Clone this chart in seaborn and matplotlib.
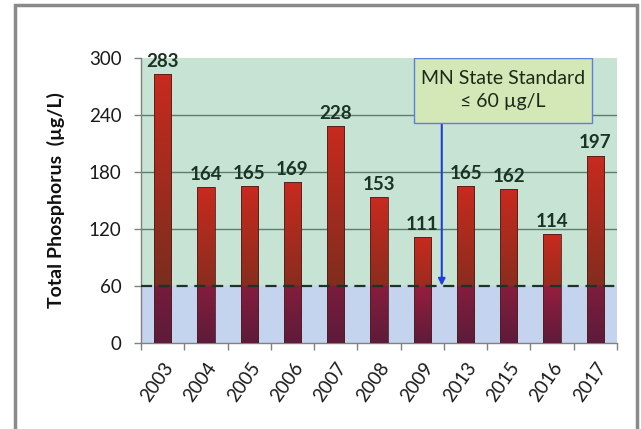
import matplotlib
matplotlib.use("Agg")
import matplotlib.pyplot as plt
from matplotlib.patches import Rectangle
import seaborn as sns
import numpy as np
import pandas as pd

# data
years = ["2003", "2004", "2005", "2006", "2007", "2008", "2009",
         "2013", "2015", "2016", "2017"]
phosphorus = [283, 164, 165, 169, 228, 153, 111, 165, 162, 114, 197]
standard = 60
y_ticks = [0, 60, 120, 180, 240, 300]

sns.set_style("white")
plt.rcParams['font.family'] = ['Lato', 'DejaVu Sans']

df = pd.DataFrame({"Year": years, "TP": phosphorus})

fig = plt.figure(figsize=(6.41, 4.29), dpi=100)
ax = fig.add_axes([0.22, 0.2012, 0.7426, 0.6643])
ax.set_facecolor("#c6e3d3")

sns.barplot(data=df, x="Year", y="TP", ax=ax, width=0.4,
            color="#c82a1e", edgecolor="#4a2020", linewidth=0.6, zorder=3)
bars = list(ax.patches)

# lower band below the standard
ax.axhspan(0, standard, color="#c4d3ee", zorder=0)

# gradient fill clipped to every bar
red = np.array([200, 42, 30]) / 255
dark_red = np.array([101, 46, 30]) / 255
crimson = np.array([200, 32, 66]) / 255
dark_purple = np.array([94, 27, 58]) / 255
for bar in bars:
    x0, w, h = bar.get_x(), bar.get_width(), bar.get_height()
    v = np.linspace(0, h, 300)
    t = (v / h)[:, None]
    upper = dark_red + (red - dark_red) * t
    lower = dark_purple + (crimson - dark_purple) * t
    cols = np.where((v < standard)[:, None], lower, upper)
    img = ax.imshow(cols[:, None, :], extent=[x0, x0 + w, 0, h], origin="lower",
                    aspect="auto", zorder=3.5, interpolation="bilinear")
    img.set_clip_path(bar)
    bar.set_facecolor("none")
    bar.set_zorder(4)

ax.set_xlim(-0.5, len(years) - 0.5)
ax.set_ylim(0, 300)

# grid and standard line
for yv in y_ticks[2:5]:
    ax.axhline(yv, color="#5f7d6c", lw=1.0, zorder=1)
ax.axhline(standard, color="#1c3326", lw=1.6, ls=(0, (5, 3)), zorder=5)

# value labels
for bar, val in zip(bars, phosphorus):
    ax.annotate(f"{val}", (bar.get_x() + bar.get_width() / 2, val),
                xytext=(0, 3), textcoords="offset points", ha="center",
                va="bottom", fontsize=13.5, fontweight="bold", color="#1a3322",
                zorder=6)

# axes styling
for side in ["top", "right"]:
    ax.spines[side].set_visible(False)
for side in ["left", "bottom"]:
    ax.spines[side].set_color("#808080")
    ax.spines[side].set_linewidth(1.0)

ax.set_yticks(y_ticks)
ax.tick_params(axis="y", left=True, length=5, width=1, color="#808080",
               labelsize=13.5, labelcolor="#1a1a1a", pad=9)
ax.set_xticks(np.arange(len(years)))
ax.set_xticks(np.arange(-0.5, len(years)), minor=True)
ax.tick_params(axis="x", which="major", length=0, pad=12)
ax.tick_params(axis="x", which="minor", bottom=True, length=5, width=1,
               color="#808080")
ax.set_xticklabels(years, rotation=55, ha="right", rotation_mode="anchor",
                   fontsize=13.5, color="#1a1a1a")
ax.set_xlabel("")
ax.set_ylabel("Total Phosphorus  (µg/L)", fontsize=14, fontweight="bold",
              color="#111111", labelpad=17)

# standard callout
ax.add_patch(Rectangle((5.81, 231), 4.11, 69, fc="#d4e7b6", ec="#5b7fdf",
                       lw=1, zorder=7))
ax.text(7.86, 266, "MN State Standard\n≤ 60 µg/L", ha="center", va="center",
        fontsize=14, color="#1a2a1a", linespacing=1.4, zorder=8)
ax.annotate("", xy=(6.45, standard), xytext=(6.45, 231),
            arrowprops=dict(arrowstyle="-|>", color="#1f3fe0", lw=1.5,
                            mutation_scale=10, shrinkA=0, shrinkB=0), zorder=6)

# outer gray frame
fig.patches.append(Rectangle((14.5 / 641, -0.2), 622 / 641, 1.2 - 5.5 / 429,
                             transform=fig.transFigure, fill=False,
                             ec="#8a8a8a", lw=2.5))

fig.savefig("out.png", dpi=100)
